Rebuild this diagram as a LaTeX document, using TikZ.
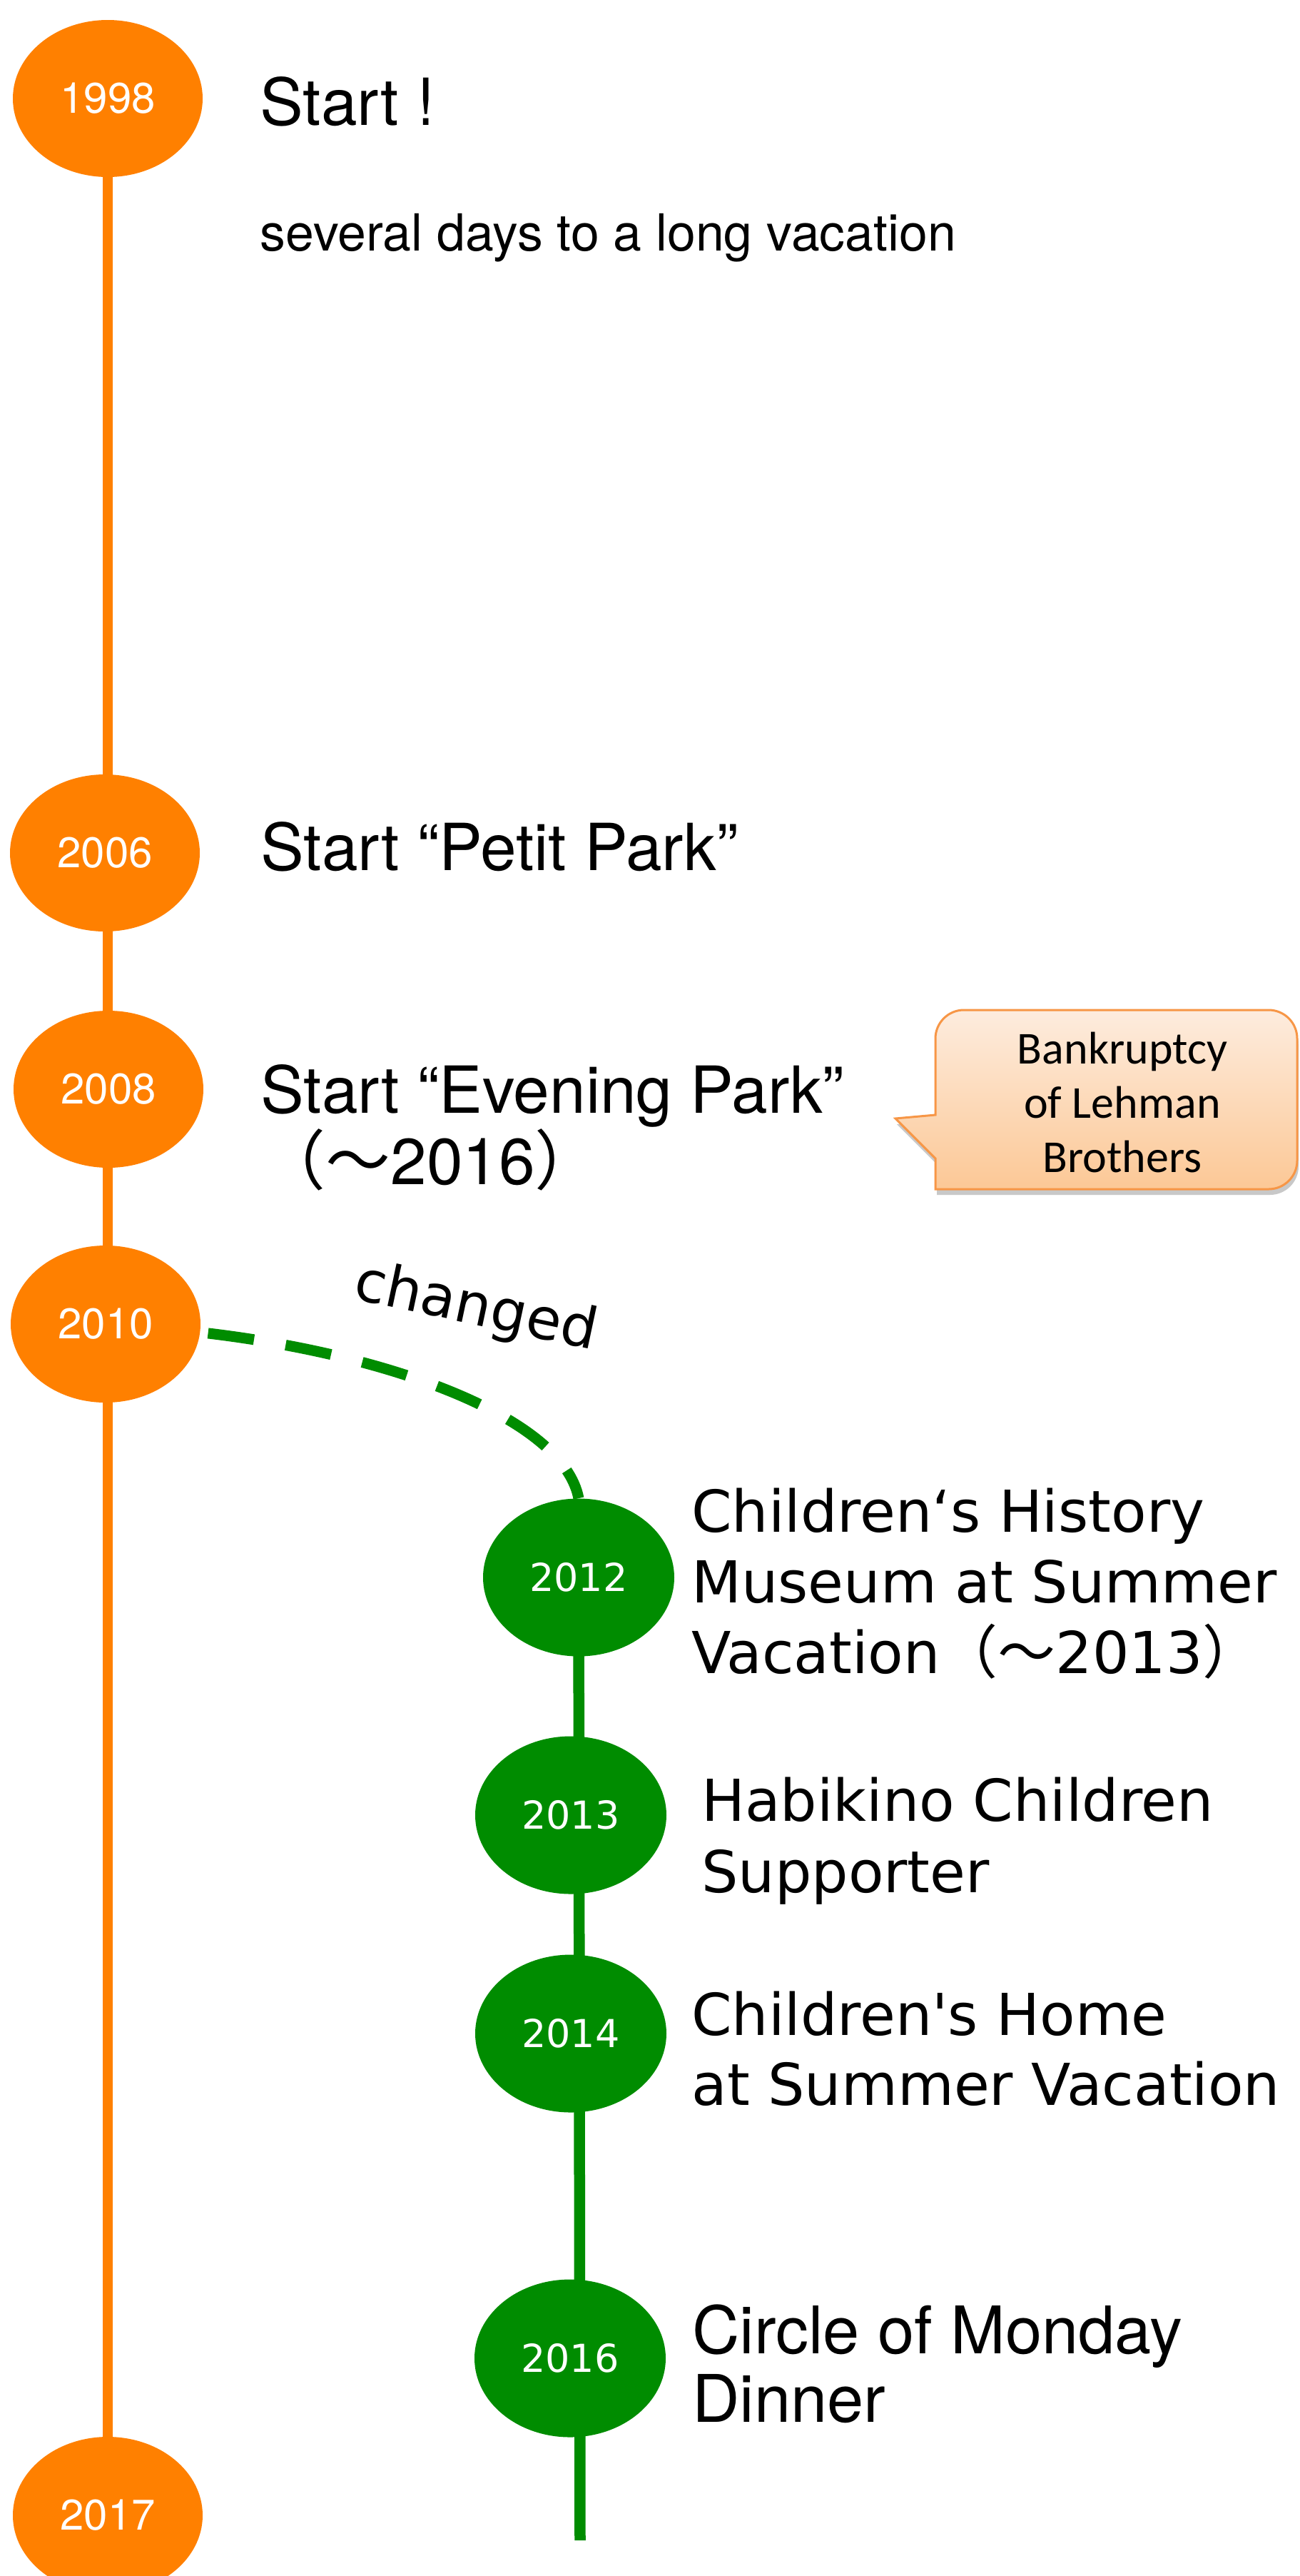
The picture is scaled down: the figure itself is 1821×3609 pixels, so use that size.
\documentclass[tikz,border=0pt]{standalone}
\usepackage{fontspec}
\setmainfont{TeX Gyre Heros}
\newfontfamily\helv{TeX Gyre Heros}
\newfontfamily\hira{DejaVu Sans}
\newfontfamily\cjk{Noto Sans CJK JP}
\newfontfamily\calib{Carlito}
\usetikzlibrary{shapes.geometric,backgrounds,shadows}
\newcommand\myfs[1]{\fontsize{#1}{#1}\selectfont}
\definecolor{tlorange}{RGB}{255,128,0}
\definecolor{tlgreen}{RGB}{0,140,0}
\definecolor{peachtop}{RGB}{253,236,222}
\definecolor{peachbot}{RGB}{252,200,150}
\definecolor{peachedge}{RGB}{247,150,70}
\tikzset{
  oell/.style={ellipse, fill=tlorange, minimum width=133pt, minimum height=110pt, inner sep=0pt, text=white, font=\helv\myfs{30pt}},
  gell/.style={ellipse, fill=tlgreen, minimum width=134pt, minimum height=110.5pt, inner sep=0pt, text=white, font=\hira\myfs{27pt}},
  otxt/.style={anchor=base west, inner sep=0pt, font=\helv\myfs{45.5pt}},
  gtxt/.style={anchor=base west, inner sep=0pt, font=\hira\myfs{40.5pt}},
  ctxt/.style={anchor=base, inner sep=0pt, font=\calib\myfs{32pt}},
  oline/.style={draw=tlorange, line width=7pt},
  gline/.style={draw=tlgreen, line width=7.75pt},
  gdash/.style={draw=tlgreen, line width=7.5pt, dash pattern=on 32.5pt off 22.5pt},
}
\begin{document}
\begin{tikzpicture}[x=0.5pt,y=-0.5pt]
\useasboundingbox (0,0) rectangle (1821,3609);
\clip (0,0) rectangle (1821,3609);

% orange ellipses
\node[oell] (y1998) at (151,138) {1998};
\node[oell] (y2006) at (147,1195) {2006};
\node[oell] (y2008) at (152,1526) {2008};
\node[oell] (y2010) at (148,1855) {2010};
\node[oell] (y2017) at (151,3524) {2017};

% green ellipses
\node[gell] (y2012) at (811,2210) {2012};
\node[gell] (y2013) at (800,2543) {2013};
\node[gell] (y2014) at (800,2849) {2014};
\node[gell] (y2016) at (799,3304) {2016};
\coordinate (gend) at (813,3559);

% background and timelines behind
\begin{scope}[on background layer]
  \fill[white] (0,0) rectangle (1821,3609);
  \draw[oline] (y1998.center) -- (y2017.center);
  \draw[gline] (y2012.center) -- (gend);
\end{scope}

% changed connector
\draw[gdash, shorten <=5.5pt] (y2010.-5) .. controls (560,1900) and (790,1990) .. (y2012.north);
\node[anchor=base, inner sep=0pt, rotate=-12, font=\hira\myfs{40pt}] (chg) at (662,1855) {changed};

% orange texts
\node[otxt] (t1998a) at (364,175) {Start !};
\node[otxt, font=\helv\myfs{35.8pt}] (t1998b) at (364,351) {several days to a long vacation};
\node[otxt] (t2006) at (365,1219) {Start “Petit Park”};
\node[otxt] (t2008a) at (365,1559) {Start “Evening Park”};
\node[otxt] (t2008b) at (365,1659) {{\cjk （〜}2016{\cjk ）}};

% green texts
\node[gtxt] (t2012a) at (969,2146) {Children‘s History};
\node[gtxt] (t2012b) at (969,2245) {Museum at Summer};
\node[gtxt] (t2012c) at (969,2344) {Vacation{\cjk （〜}2013{\cjk ）}};
\node[gtxt] (t2013a) at (983,2551) {Habikino Children};
\node[gtxt] (t2013b) at (983,2651) {Supporter};
\node[gtxt] (t2014a) at (969,2851) {Children's Home};
\node[gtxt] (t2014b) at (969,2949) {at Summer Vacation};
\node[otxt, font=\helv\myfs{46pt}] (t2016a) at (970,3297) {Circle of Monday};
\node[otxt, font=\helv\myfs{46pt}] (t2016b) at (970,3393) {Dinner};

% callout
\path[top color=peachtop, bottom color=peachbot, draw=peachedge, line width=1.5pt,
  drop shadow={shadow xshift=1pt, shadow yshift=-4pt, opacity=0.3, fill=black!70}]
  (1311,1562) -- (1255,1567) -- (1311,1623) -- (1311,1666)
  [rounded corners=20pt] -- (1818,1666) -- (1818,1415) -- (1311,1415) -- (1311,1500)
  [sharp corners] -- cycle;
\node[ctxt] (lehman1) at (1573,1490) {Bankruptcy};
\node[ctxt] (lehman2) at (1573,1566) {of Lehman};
\node[ctxt] (lehman3) at (1573,1642) {Brothers};
\end{tikzpicture}
\end{document}
